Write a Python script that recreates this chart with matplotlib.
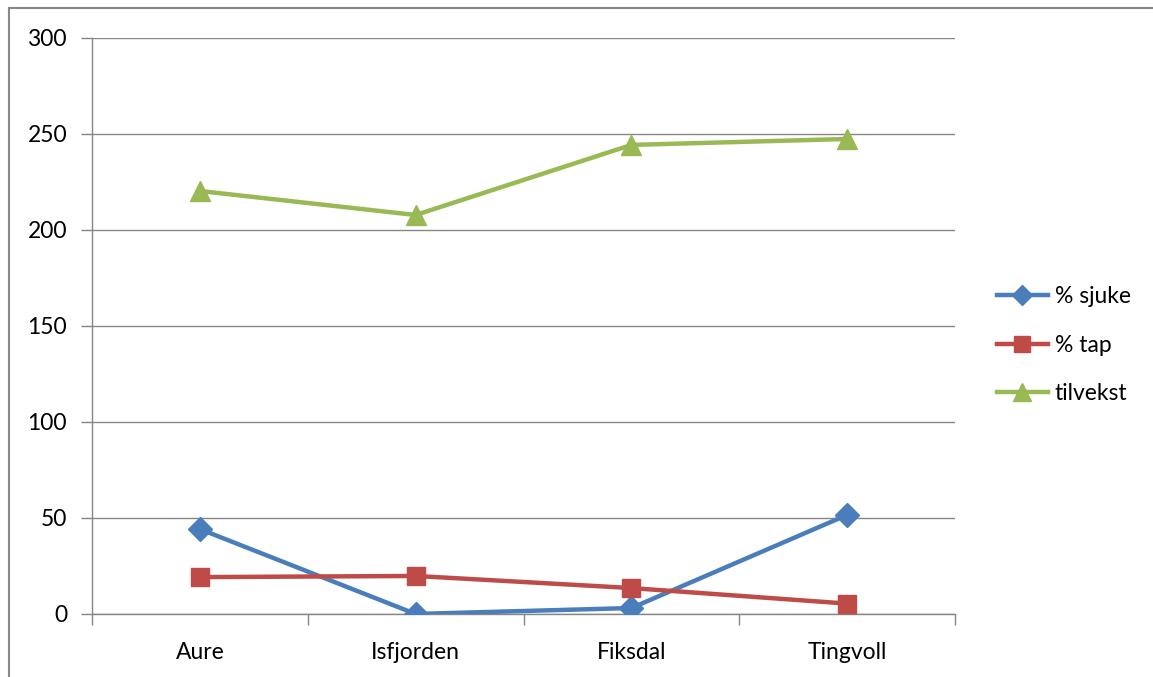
import matplotlib.pyplot as plt
import numpy as np

plt.rcParams['font.family'] = ['Lato', 'DejaVu Sans']

# data
steder = ['Aure', 'Isfjorden', 'Fiksdal', 'Tingvoll']
sjuke = [44.2, 0.0, 3.1, 51.6]
tap = [19.2, 19.8, 13.5, 5.4]
tilvekst = [220.3, 207.8, 244.3, 247.4]

GRID = '#868686'

fig = plt.figure(figsize=(11.53, 6.77), dpi=100)
ax = fig.add_axes([0.0798, 0.0931, 0.7485, 0.8508])

x = np.arange(len(steder))
ax.plot(x, sjuke, color='#4A7EBB', lw=3.2, marker='D', ms=12, label='% sjuke', zorder=3)
ax.plot(x, tap, color='#BE4B48', lw=3.2, marker='s', ms=13, label='% tap', zorder=3)
ax.plot(x, tilvekst, color='#98B954', lw=3.2, marker='^', ms=15, label='tilvekst', zorder=3)

ax.set_xlim(-0.5, len(steder) - 0.5)
ax.set_ylim(0, 300)
ax.set_yticks(np.arange(0, 301, 50))
ax.yaxis.grid(True, color=GRID, lw=1)
ax.set_axisbelow(True)

ax.set_xticks(x)
ax.set_xticklabels(steder)
ax.set_xticks(np.arange(-0.5, len(steder)), minor=True)
ax.tick_params(axis='x', which='major', length=0, pad=20, labelsize=16.5, colors='#000000')
ax.tick_params(axis='x', which='minor', length=8, color=GRID, width=1)
ax.tick_params(axis='y', length=8, color=GRID, width=1, labelsize=16.5, pad=10)

for s in ['top', 'right']:
    ax.spines[s].set_visible(False)
for s in ['left', 'bottom']:
    ax.spines[s].set_color(GRID)
    ax.spines[s].set_linewidth(1)

# outer chart border (image is cropped at right/bottom)
fig.add_artist(plt.Line2D([9 / 1153, 9 / 1153], [0, 1 - 8 / 677], color='#888888', lw=1.5))
fig.add_artist(plt.Line2D([9 / 1153, 1], [1 - 8 / 677, 1 - 8 / 677], color='#888888', lw=1.5))

fig.legend(loc='center left', bbox_to_anchor=(0.847, 0.49), frameon=False,
           fontsize=16.5, handlelength=2.2, handletextpad=0.3, labelspacing=1.2,
           markerscale=0.85)

plt.savefig('out.png', dpi=100)
